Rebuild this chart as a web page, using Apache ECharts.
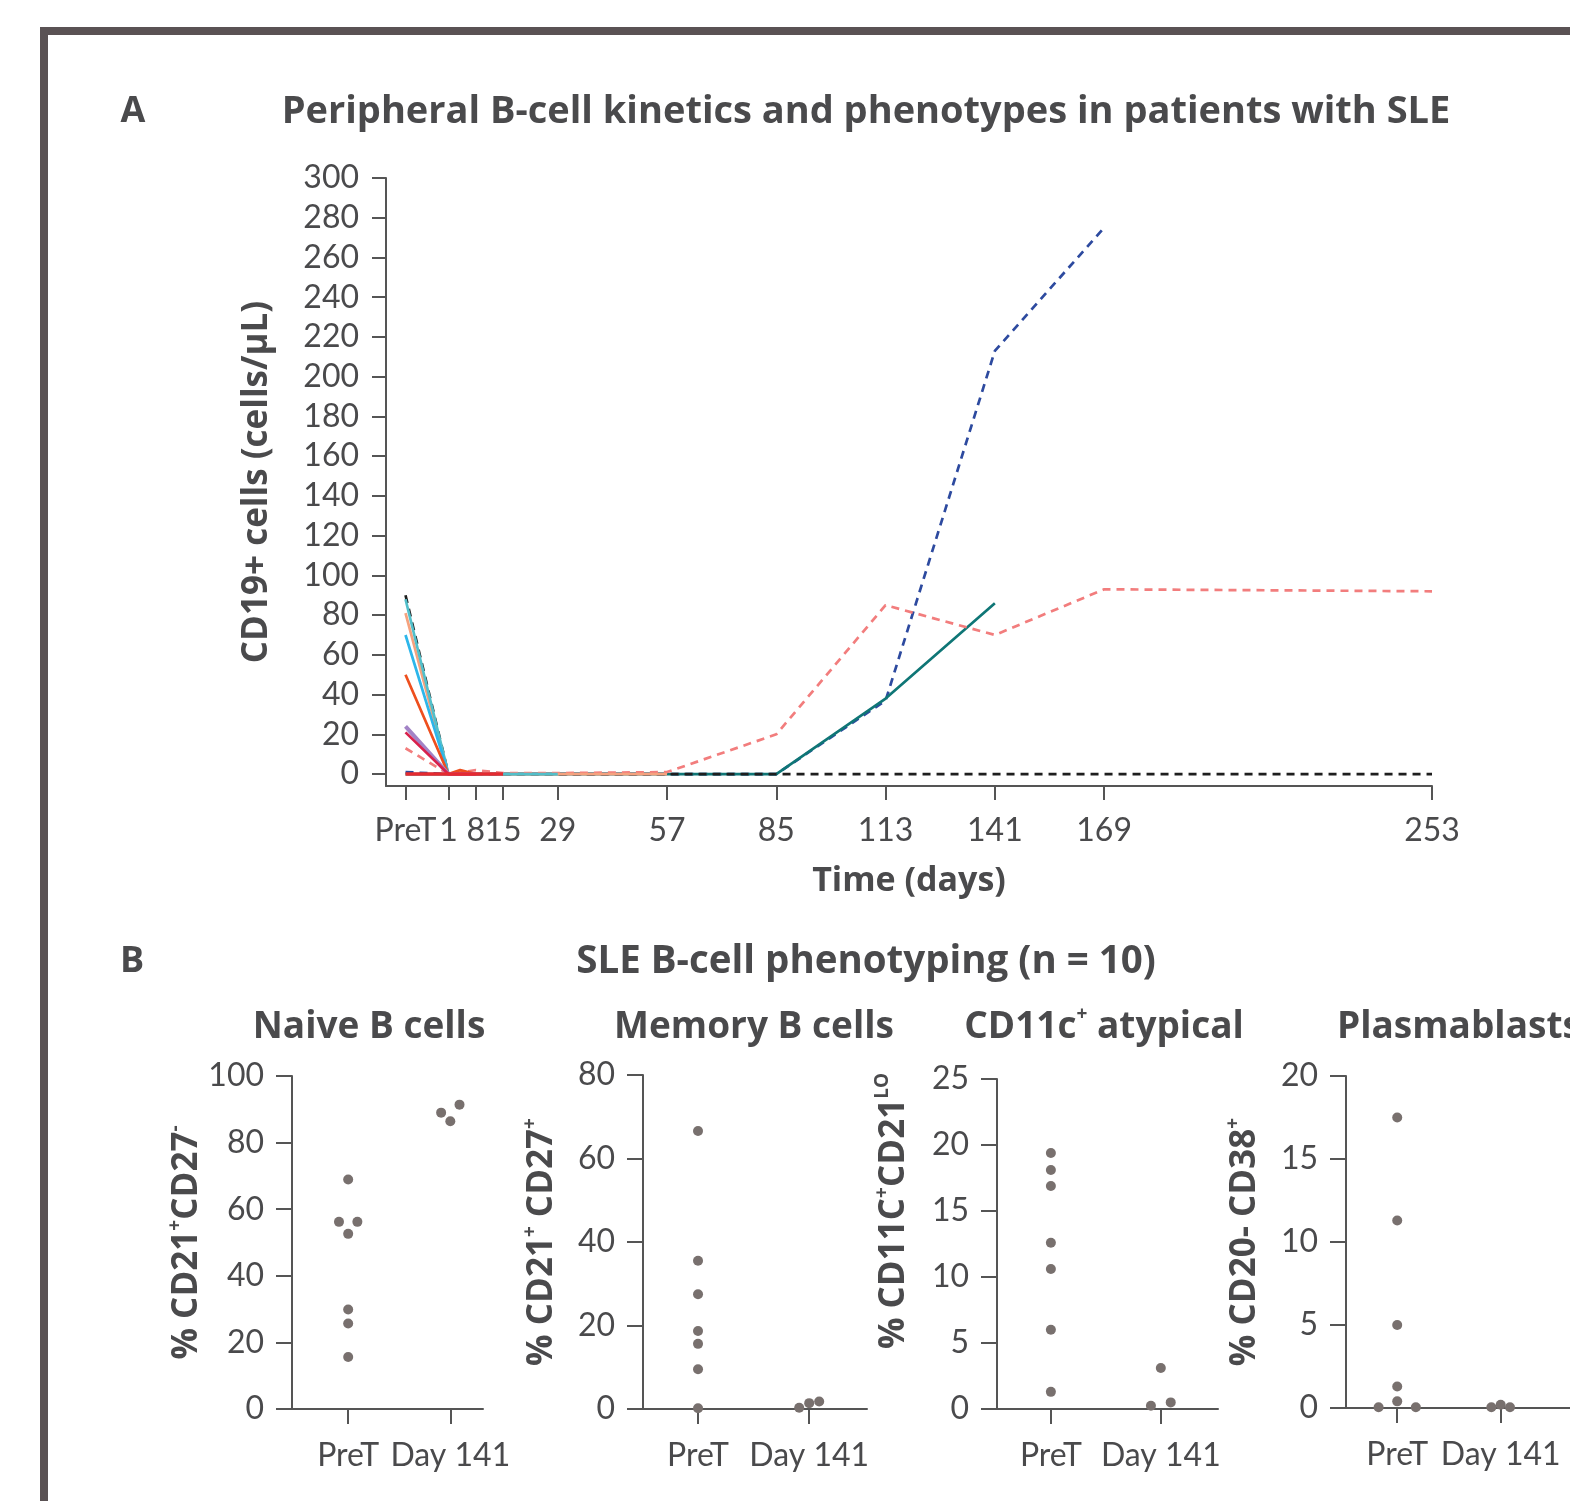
<!DOCTYPE html>
<html>
<head>
<meta charset="utf-8">
<script src="https://cdn.jsdelivr.net/npm/echarts@6/dist/echarts.min.js"></script>
<style>
html, body { margin: 0; padding: 0; background: #fff; }
#main { width: 1570px; height: 1501px; }
</style>
</head>
<body>
<div id="main"></div>
<script>
var dom = document.getElementById('main');
var myChart = echarts.init(dom);

// ---- panel A data: CD19+ cells per µL; PreT is drawn at day -10
var days = [-10, 1, 4, 8, 15, 29, 57, 85, 113, 141, 169, 253];
var tickDays = [-10, 1, 8, 15, 29, 57, 85, 113, 141, 169, 253];
var tickDayLabels = ['PreT', '1', '8', '15', '29', '57', '85', '113', '141', '169', '253'];
var yTicksA = [0, 20, 40, 60, 80, 100, 120, 140, 160, 180, 200, 220, 240, 260, 280, 300];

var ptNavy    = [1, 0, null, 0, 0, 0, 0, 0, 37, 213, 275, null];
var ptTealDk  = [0, 0, null, 0, 0, 0, 0, 0, 38, 86, null, null];
var ptBlack   = [90, 0, null, 0, 0, 0, 0, 0, 0, 0, 0, 0];
var ptPink    = [13, 0, null, 2, 0.5, 0.5, 1, 20, 85, 70, 93, 92];
var ptSalmon  = [81, 0, null, 0, 0, 0, 0, null, null, null, null, null];
var ptTealLt  = [88, 0, null, 0, 0, 0, null, null, null, null, null, null];
var ptBlue    = [70, 0, null, 0, null, null, null, null, null, null, null, null];
var ptOrange  = [50, 0, 2, 0, null, null, null, null, null, null, null, null];
var ptPurple  = [24, 0, null, 0, null, null, null, null, null, null, null, null];
var ptCrimson = [21, 0, null, 0, null, null, null, null, null, null, null, null];
var ptRed     = [0, 0, null, 0, 0, null, null, null, null, null, null, null];

// ---- panel B data: % of B cells, PreT and Day 141
var groups = ['PreT', 'Day 141'];
var naivePre   = [68.9, 56.2, 56.2, 52.6, 29.9, 25.7, 15.6];
var naivePreJ  = [0, -1, 1, 0, 0, 0, 0];
var naiveD141  = [89, 86.4, 91.4];
var naiveD141J = [-1, 0, 1];

var memPre   = [66.6, 35.5, 27.5, 18.7, 15.6, 9.5, 0.2];
var memPreJ  = [0, 0, 0, 0, 0, 0, 0];
var memD141  = [0.3, 1.4, 1.8];
var memD141J = [-1, 0, 1];

var atyPre   = [19.4, 18.1, 16.9, 12.6, 10.6, 6.0, 1.3];
var atyPreJ  = [0, 0, 0, 0, 0, 0, 0];
var atyD141  = [0.25, 3.1, 0.5];
var atyD141J = [-1, 0, 1];

var plasPre   = [17.5, 11.3, 5.0, 1.3, 0.4, 0.05, 0.05];
var plasPreJ  = [0, 0, 0, 0, 0, -2, 2];
var plasD141  = [0.05, 0.2, 0.05];
var plasD141J = [-1, 0, 1];

var FONT = 'Lato';
var BFONT = 'Open Sans';
var TXT = '#4a4a4c';
var AX = '#555555';
var DOT = '#78706e';

function pairs(vals) {
    return days.map(function (d, i) { return [d, vals[i]]; })
        .filter(function (p) { return p[1] !== null; });
}
function dots(pre, preJ, d141, d141J) {
    var out = [];
    pre.forEach(function (v, i) { out.push([1 + preJ[i] * 0.09, v]); });
    d141.forEach(function (v, i) { out.push([2 + d141J[i] * 0.09, v]); });
    return out;
}
function lineSeries(vals, color, dashed, width) {
    return {
        type: 'line', xAxisIndex: 0, yAxisIndex: 0,
        data: pairs(vals), symbol: 'none', animation: false,
        lineStyle: { color: color, width: width || 2.7, type: dashed ? [8, 6] : 'solid' }
    };
}

var labelStyle = { fontFamily: FONT, fontSize: 32, color: TXT };
var nameStyle = { fontFamily: BFONT, fontSize: 35, fontWeight: 'bold', color: TXT };
var supRich = {
    a: { fontFamily: BFONT, fontSize: 35, fontWeight: 'bold', color: TXT, lineHeight: 42 },
    s: { fontFamily: BFONT, fontSize: 19, fontWeight: 'bold', color: TXT, lineHeight: 22, verticalAlign: 'top' }
};

// panel B subplot layout
var subs = [
    { left: 292, top: 1076, width: 191, height: 333, min: 0.45, max: 2.32, ymax: 100, step: 20,
      name: '{a|% CD21}{s|+}{a|CD27}{s|-}', pad: 0, gap: 80 },
    { left: 643, top: 1075, width: 224, height: 334, min: 0.505, max: 2.52, ymax: 80, step: 20,
      name: '{a|% CD21}{s|+}{a| CD27}{s|+}', pad: 0, gap: 80 },
    { left: 997, top: 1079, width: 221, height: 330, min: 0.51, max: 2.52, ymax: 25, step: 5,
      name: '{a|% CD11C}{s|+}{a|CD21}{s|LO}', pad: 66, gap: 82 },
    { left: 1346, top: 1076, width: 240, height: 332, min: 0.505, max: 2.67, ymax: 20, step: 5,
      name: '{a|% CD20- CD38}{s|+}', pad: 0, gap: 80 }
];
var subData = [
    dots(naivePre, naivePreJ, naiveD141, naiveD141J),
    dots(memPre, memPreJ, memD141, memD141J),
    dots(atyPre, atyPreJ, atyD141, atyD141J),
    dots(plasPre, plasPreJ, plasD141, plasD141J)
];

var grids = [{ left: 386, top: 178, width: 1046, height: 608 }];
var xAxes = [{
    type: 'value', gridIndex: 0, min: -15, max: 253,
    axisLine: { onZero: false, lineStyle: { color: AX, width: 2 } },
    axisTick: { length: 14, lineStyle: { color: AX, width: 2 }, customValues: tickDays },
    axisLabel: Object.assign({ margin: 29, customValues: tickDays,
        formatter: function (v) { return tickDayLabels[tickDays.indexOf(v)]; } }, labelStyle),
    splitLine: { show: false },
    name: 'Time (days)', nameLocation: 'middle', nameGap: 78,
    nameTextStyle: Object.assign({}, nameStyle, { fontSize: 34 })
}];
var yAxes = [{
    type: 'value', gridIndex: 0, min: -6, max: 300,
    axisLine: { show: true, onZero: false, lineStyle: { color: AX, width: 2 } },
    axisTick: { show: true, length: 14, lineStyle: { color: AX, width: 2 }, customValues: yTicksA },
    axisLabel: Object.assign({ margin: 27, customValues: yTicksA }, labelStyle),
    splitLine: { show: false },
    name: 'CD19+ cells (cells/µL)', nameLocation: 'middle', nameGap: 111, nameTextStyle: nameStyle
}];
var series = [
    lineSeries(ptNavy, '#2d4a9f', true),
    lineSeries(ptTealDk, '#0f7676', false),
    lineSeries(ptBlack, '#1e1e1e', true),
    lineSeries(ptPink, '#f27d7d', true),
    lineSeries(ptSalmon, '#f5a27e', false),
    lineSeries(ptTealLt, '#52bfca', false),
    lineSeries(ptBlue, '#2db6ea', false),
    lineSeries(ptOrange, '#ee4f1e', false),
    lineSeries(ptPurple, '#a283c6', false, 4),
    lineSeries(ptCrimson, '#d8204c', false),
    lineSeries(ptRed, '#e52a30', false, 3.5)
];

subs.forEach(function (s, k) {
    var gi = k + 1;
    grids.push({ left: s.left, top: s.top, width: s.width, height: s.height });
    xAxes.push({
        type: 'value', gridIndex: gi, min: s.min, max: s.max,
        axisLine: { onZero: false, lineStyle: { color: AX, width: 2 } },
        axisTick: { length: 15, lineStyle: { color: AX, width: 2 }, customValues: [1, 2] },
        axisLabel: Object.assign({ margin: 31, customValues: [1, 2],
            formatter: function (v) { return groups[v - 1]; } }, labelStyle),
        splitLine: { show: false }
    });
    yAxes.push({
        type: 'value', gridIndex: gi, min: 0, max: s.ymax, interval: s.step,
        axisLine: { show: true, onZero: false, lineStyle: { color: AX, width: 2 } },
        axisTick: { show: true, length: 16, lineStyle: { color: AX, width: 2 } },
        axisLabel: Object.assign({ margin: 28 }, labelStyle),
        splitLine: { show: false },
        name: s.name, nameLocation: 'middle', nameGap: s.gap,
        nameTextStyle: Object.assign({ rich: supRich, padding: [0, 0, 0, s.pad] }, nameStyle)
    });
    series.push({
        type: 'scatter', xAxisIndex: gi, yAxisIndex: gi, data: subData[k],
        symbolSize: 10, itemStyle: { color: DOT, opacity: 1 }, animation: false
    });
});

function txt(x, y, text, size, extra) {
    return {
        type: 'text', x: x, y: y, silent: true,
        style: Object.assign({ text: text, fontFamily: BFONT, fontSize: size, fontWeight: 'bold',
            fill: TXT, align: 'center', verticalAlign: 'middle' }, extra || {})
    };
}

var option = {
    backgroundColor: '#ffffff',
    grid: grids,
    xAxis: xAxes,
    yAxis: yAxes,
    series: series,
    graphic: [
        { type: 'rect', silent: true, shape: { x: 44, y: 31, width: 1700, height: 1700 },
          style: { fill: 'none', stroke: '#5a5254', lineWidth: 8 } },
        txt(133, 112, 'A', 36),
        txt(866, 112, 'Peripheral B-cell kinetics and phenotypes in patients with SLE', 38),
        txt(132, 962, 'B', 36),
        txt(866, 962, 'SLE B-cell phenotyping (n = 10)', 38.5),
        txt(369, 1027, 'Naive B cells', 37),
        txt(754, 1027, 'Memory B cells', 37),
        txt(1104, 1027, '{a|CD11c}{s|+}{a| atypical}', 37, {
            rich: { a: { fontFamily: BFONT, fontSize: 37, fontWeight: 'bold', fill: TXT, lineHeight: 44 },
                    s: { fontFamily: BFONT, fontSize: 19, fontWeight: 'bold', fill: TXT, lineHeight: 24, verticalAlign: 'top' } }
        }),
        txt(1337, 1027, 'Plasmablasts', 37, { align: 'left' })
    ]
};

if (option && typeof option === 'object') {
    myChart.setOption(option);
}
</script>
</body>
</html>
